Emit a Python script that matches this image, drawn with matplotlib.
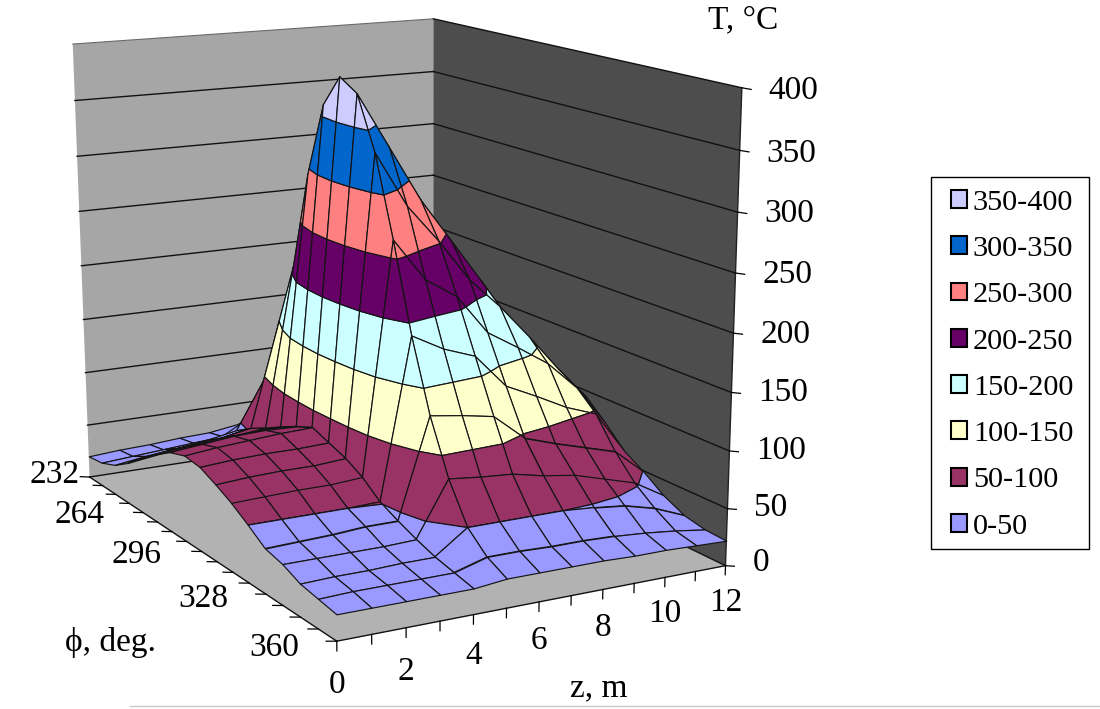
import numpy as np
import matplotlib
matplotlib.use("Agg")
import matplotlib.pyplot as plt
from matplotlib.patches import Patch, Rectangle
from matplotlib.lines import Line2D
from mpl_toolkits.mplot3d import proj3d
from mpl_toolkits.mplot3d.art3d import Poly3DCollection

plt.rcParams['font.family'] = ['Liberation Serif', 'DejaVu Serif']

# ---- data -------------------------------------------------------------
z_m = [0, 1, 2, 3, 4, 5, 6, 7, 8, 9, 10, 11, 12]
phi_deg = [232, 240, 248, 256, 264, 272, 280, 288, 296, 304, 312, 320, 328, 336, 344, 352, 360]
T_z0 = [20, 22, 28, 38, 50, 62, 72, 77, 75, 68, 60, 50, 39, 35, 28, 25, 22]
T_z1 = [22, 24, 32, 42, 54, 65, 75, 80, 77, 70, 61, 50, 40, 35, 29, 26, 22]
T_z2 = [23, 26, 35, 45, 56, 68, 78, 82, 78, 71, 62, 50, 41, 35, 29, 26, 22]
T_z3 = [25, 28, 38, 48, 58, 69, 79, 84, 78, 71, 62, 50, 43, 35, 30, 26, 22]
T_z4 = [26, 30, 43, 53, 61, 70, 78, 85, 79, 73, 64, 51, 43, 36, 30, 26, 22]
T_z5 = [30, 45, 90, 150, 207, 295, 360, 388, 378, 333, 265, 190, 129, 83, 50, 34, 25]
T_z6 = [28, 42, 85, 140, 195, 270, 325, 348, 330, 285, 228, 175, 125, 80, 50, 34, 25]
T_z7 = [26, 38, 75, 125, 180, 240, 285, 300, 282, 252, 210, 165, 120, 78, 50, 33, 25]
T_z8 = [25, 34, 65, 110, 160, 205, 245, 256, 243, 215, 175, 135, 97, 72, 50, 33, 25]
T_z9 = [24, 30, 55, 90, 130, 170, 198, 212, 204, 188, 158, 122, 88, 68, 48, 32, 24]
T_z10 = [23, 27, 45, 75, 105, 135, 158, 170, 163, 157, 140, 108, 80, 60, 45, 30, 24]
T_z11 = [22, 25, 38, 60, 85, 110, 128, 140, 133, 124, 114, 98, 72, 52, 38, 27, 23]
T_z12 = [20, 23, 32, 50, 70, 90, 105, 112, 102, 94, 78, 60, 49, 36, 27, 23, 22]
band_edges = [0, 50, 100, 150, 200, 250, 300, 350, 400]
band_labels = ['0-50', '50-100', '100-150', '150-200', '200-250', '250-300', '300-350', '350-400']
band_colors = ['#9999FF', '#993366', '#FFFFCC', '#CCFFFF', '#660066', '#FF8080', '#0066CC', '#CCCCFF']
z_tick_labels = [0, 2, 4, 6, 8, 10, 12]
phi_tick_labels = [232, 264, 296, 328, 360]
T_tick_labels = [0, 50, 100, 150, 200, 250, 300, 350, 400]

T = np.array([T_z0, T_z1, T_z2, T_z3, T_z4, T_z5, T_z6, T_z7, T_z8, T_z9, T_z10, T_z11, T_z12], float)
Z0, Z1 = z_m[0], z_m[-1]
P0, P1 = phi_deg[0], phi_deg[-1]
T0, T1 = T_tick_labels[0], T_tick_labels[-1]

W, H = 1100, 709
# camera calibration: box corner (z, phi, T) -> pixel of the picture
box_world = [(Z0, P0, T0), (Z1, P0, T0), (Z1, P1, T0), (Z0, P1, T0),
             (Z0, P0, T1), (Z1, P0, T1), (Z1, P1, T1)]
box_pixel = [(90, 473), (433, 429), (726, 561), (336, 645),
             (73, 45), (433, 17), (742, 89)]


def fit_camera():
    rows = []
    for (a, b, c), (u, v) in zip(box_world, box_pixel):
        X = [(a - Z0) / (Z1 - Z0), (b - P0) / (P1 - P0), (c - T0) / (T1 - T0), 1.0]
        v = H - v
        rows.append(X + [0, 0, 0, 0] + [-u * q for q in X])
        rows.append([0, 0, 0, 0] + X + [-v * q for q in X])
    _, _, vt = np.linalg.svd(np.array(rows))
    P = vt[-1].reshape(3, 4)
    N = np.array([[1 / (Z1 - Z0), 0, 0, -Z0 / (Z1 - Z0)],
                  [0, 1 / (P1 - P0), 0, -P0 / (P1 - P0)],
                  [0, 0, 1 / (T1 - T0), -T0 / (T1 - T0)],
                  [0, 0, 0, 1]])
    P = P @ N
    P = P / P[2, 3]
    return np.array([P[0], P[1], [0, 0, 0, -1.0], P[2]])


M = fit_camera()

fig = plt.figure(figsize=(W / 100, H / 100), dpi=100)
ax = fig.add_axes([0, -(W - H) / 2 / H, 1, W / H], projection='3d')
ax.set_axis_off()
ax.set_proj_type('ortho')   # the camera matrix below replaces the projection
ax.computed_zorder = False
ax.get_proj = lambda: M
ax.viewLim.intervalx = (0, W)
ax.viewLim.intervaly = (-(W - H) / 2, H + (W - H) / 2)
ax.set_xticks([])
ax.set_yticks([])
ax.set_zticks([])


def add_polys(polys, colors, zorder, lw=0.0, edge='none'):
    col = Poly3DCollection(polys, facecolors=colors, edgecolors=edge, linewidths=lw)
    col.set_zorder(zorder)
    ax.add_collection3d(col, autolim=False)


def clip_level(poly, level, keep_above):
    out = []
    n = len(poly)
    for k in range(n):
        a, b = poly[k], poly[(k + 1) % n]
        ina = (a[2] >= level) if keep_above else (a[2] <= level)
        inb = (b[2] >= level) if keep_above else (b[2] <= level)
        if ina:
            out.append(a)
        if ina != inb:
            s = (level - a[2]) / (b[2] - a[2])
            out.append((a[0] + s * (b[0] - a[0]), a[1] + s * (b[1] - a[1]), level))
    return out


def label_at(z, p, t, s, dx, dy, ha):
    x, y, _ = proj3d.proj_transform(z, p, t, M)
    ax.text2D(float(x) + dx, float(y) + dy, s, ha=ha, va='center', fontsize=FS,
              transform=ax.transData, zorder=5000)


# walls and floor
add_polys([[(Z0, P0, T0), (Z1, P0, T0), (Z1, P0, T1), (Z0, P0, T1)]], ['#A6A6A6'], 1)
add_polys([[(Z1, P0, T0), (Z1, P1, T0), (Z1, P1, T1), (Z1, P0, T1)]], ['#4D4D4D'], 1)
add_polys([[(Z0, P0, T0), (Z1, P0, T0), (Z1, P1, T0), (Z0, P1, T0)]], ['#B2B2B2'], 1)

LINE = dict(color='#111111', lw=1.0, zorder=2)
for t in T_tick_labels:
    c = dict(LINE) if t < T1 else dict(color='#6A6A6A', lw=0.8, zorder=2)
    ax.plot([Z0, Z1], [P0, P0], [t, t], **c)
    ax.plot([Z1, Z1], [P0, P1], [t, t], **dict(LINE))
ax.plot([Z0, Z1], [P1, P1], [T0, T0], **LINE)
ax.plot([Z0, Z0], [P0, P1], [T0, T0], **LINE)
ax.plot([Z1, Z1], [P1, P1], [T0, T1], color='#222222', lw=1.0, zorder=2)

# ticks
for z in z_m:
    ax.plot([z, z], [P1, P1], [T0, -8], color='black', lw=0.9, zorder=2)
for p in phi_deg:
    ax.plot([Z0, -0.3], [p, p], [T0, 1.7], color='black', lw=0.9, zorder=2)
for t in T_tick_labels:
    ax.plot([Z1, 12.3], [P1, P1], [t, t - 2], color='black', lw=0.9, zorder=2)

# surface: back to front, one collection per grid cell
order = 10
for j in range(len(phi_deg) - 1):
    for i in range(len(z_m) - 2, -1, -1):
        quad = [(z_m[i], phi_deg[j], T[i, j]), (z_m[i + 1], phi_deg[j], T[i + 1, j]),
                (z_m[i + 1], phi_deg[j + 1], T[i + 1, j + 1]), (z_m[i], phi_deg[j + 1], T[i, j + 1])]
        polys, cols = [], []
        for b in range(len(band_colors)):
            pg = clip_level(quad, band_edges[b], True)
            if len(pg) >= 3:
                pg = clip_level(pg, band_edges[b + 1], False)
            if len(pg) >= 3:
                polys.append(pg)
                cols.append(band_colors[b])
        add_polys(polys, cols, order, lw=0.85, edge='#141414')
        order += 1

# tick labels
FS = 24
z_dy = [-44, -44, -41, -39, -38, -36, -37]
for z, dy in zip(z_tick_labels, z_dy):
    label_at(z, P1, T0, str(z), 0, dy, 'center')
phi_dx = [-35, -64, -65, -63, -63]
phi_dy = [2, -2, -3, -5, -7]
for p, dx, dy in zip(phi_tick_labels, phi_dx, phi_dy):
    label_at(Z0, p, T0, str(p), dx, dy, 'center')
T_dy = [3, 1, 0, 0, -2, -2, -2, -3, -3]
for t, dy in zip(T_tick_labels, T_dy):
    label_at(Z1, P1, t, str(t), 27, dy, 'left')

# axis titles
fig.text(708 / W, 1 - 20 / H, 'T, °C', fontsize=FS, ha='left', va='center')
fig.text(570 / W, 1 - 688 / H, 'z, m', fontsize=FS, ha='left', va='center')
fig.text(65 / W, 1 - 642 / H, 'ϕ, deg.', fontsize=FS, ha='left', va='center')

# legend (top band first) inside its own frame
fig.add_artist(Rectangle((931 / W, 1 - 549 / H), 158 / W, 372 / H, transform=fig.transFigure,
                         facecolor='white', edgecolor='black', linewidth=1.0, zorder=3))
handles = [Patch(facecolor=c, edgecolor='black', linewidth=1.5, label=l)
           for c, l in zip(band_colors[::-1], band_labels[::-1])]
leg = fig.legend(handles=handles, loc='upper left', bbox_to_anchor=(938 / W, 1 - 177 / H),
                 borderaxespad=0, frameon=False,
                 fontsize=21.8, handlelength=0.53, handleheight=0.53, handletextpad=0.2,
                 labelspacing=0.67, borderpad=0.42)
leg.set_zorder(4)
fig.add_artist(Line2D([130 / W, 1], [3 / H, 3 / H], color='#C8C8C8', lw=1.0))
fig.savefig('out.png', dpi=100)
